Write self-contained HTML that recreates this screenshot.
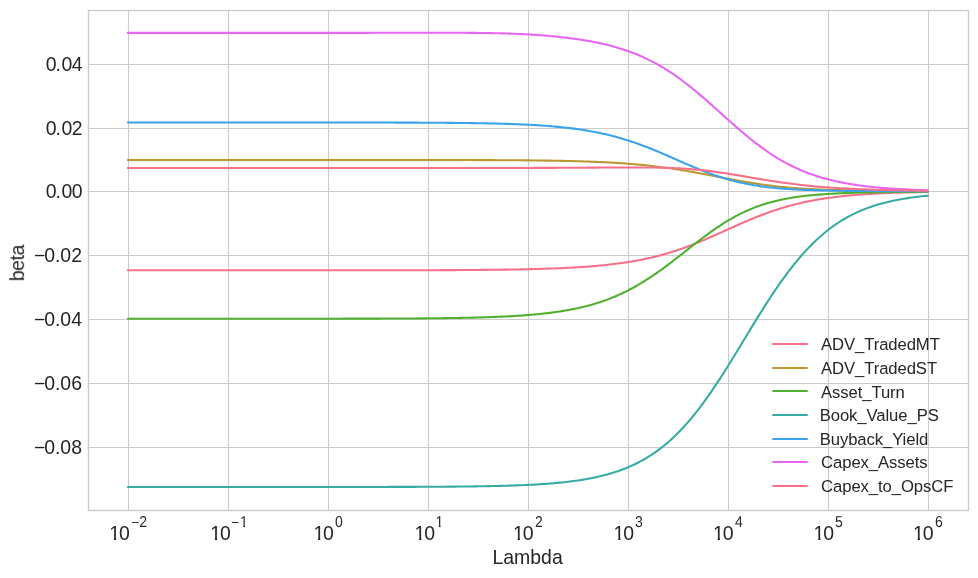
<!DOCTYPE html>
<html><head><meta charset="utf-8"><title>Ridge coefficient paths</title>
<style>
html,body{margin:0;padding:0;background:#fff;}
body{width:978px;height:578px;overflow:hidden;}
svg{display:block;will-change:transform;}
text{font-family:"Liberation Sans",sans-serif;fill:#262626;}
.t{font-size:19.44px;}
.s{font-size:13.61px;text-rendering:geometricPrecision;}
.l{font-size:16.67px;letter-spacing:-0.08px;}
.g{stroke:#cccccc;stroke-width:1.11;fill:none;}
.c{fill:none;stroke-width:2.08;stroke-linecap:round;stroke-linejoin:round;}
</style></head><body>
<svg width="978" height="578" viewBox="0 0 978 578">
<rect x="0" y="0" width="978" height="578" fill="#ffffff"/>

<g class="g">
<line x1="128.5" y1="10.5" x2="128.5" y2="510.5"/>
<line x1="228.5" y1="10.5" x2="228.5" y2="510.5"/>
<line x1="328.5" y1="10.5" x2="328.5" y2="510.5"/>
<line x1="428.5" y1="10.5" x2="428.5" y2="510.5"/>
<line x1="528.5" y1="10.5" x2="528.5" y2="510.5"/>
<line x1="628.5" y1="10.5" x2="628.5" y2="510.5"/>
<line x1="728.5" y1="10.5" x2="728.5" y2="510.5"/>
<line x1="828.5" y1="10.5" x2="828.5" y2="510.5"/>
<line x1="928.5" y1="10.5" x2="928.5" y2="510.5"/>
<line x1="88.5" y1="64.5" x2="968.5" y2="64.5"/>
<line x1="88.5" y1="128.5" x2="968.5" y2="128.5"/>
<line x1="88.5" y1="191.5" x2="968.5" y2="191.5"/>
<line x1="88.5" y1="255.5" x2="968.5" y2="255.5"/>
<line x1="88.5" y1="319.5" x2="968.5" y2="319.5"/>
<line x1="88.5" y1="383.5" x2="968.5" y2="383.5"/>
<line x1="88.5" y1="447.5" x2="968.5" y2="447.5"/>
</g>
<path class="c" stroke="#f77189" d="M127.85,270.33 L129.85,270.33 L131.85,270.33 L133.85,270.33 L135.85,270.33 L137.85,270.33 L139.85,270.33 L141.85,270.33 L143.85,270.33 L145.85,270.33 L147.85,270.33 L149.85,270.33 L151.85,270.33 L153.85,270.33 L155.85,270.33 L157.85,270.33 L159.85,270.33 L161.85,270.33 L163.85,270.33 L165.85,270.33 L167.85,270.33 L169.85,270.33 L171.85,270.33 L173.85,270.33 L175.85,270.33 L177.85,270.33 L179.85,270.33 L181.85,270.33 L183.85,270.33 L185.85,270.33 L187.85,270.33 L189.85,270.33 L191.85,270.33 L193.85,270.33 L195.85,270.33 L197.85,270.33 L199.85,270.33 L201.85,270.33 L203.85,270.33 L205.85,270.33 L207.85,270.33 L209.85,270.33 L211.85,270.33 L213.85,270.33 L215.85,270.33 L217.85,270.33 L219.85,270.33 L221.85,270.33 L223.85,270.33 L225.85,270.33 L227.85,270.33 L229.85,270.33 L231.85,270.33 L233.85,270.33 L235.85,270.33 L237.85,270.33 L239.85,270.33 L241.85,270.33 L243.85,270.33 L245.85,270.33 L247.85,270.33 L249.85,270.33 L251.85,270.32 L253.85,270.32 L255.85,270.32 L257.85,270.32 L259.85,270.32 L261.85,270.32 L263.85,270.32 L265.85,270.32 L267.85,270.32 L269.85,270.32 L271.85,270.32 L273.85,270.32 L275.85,270.32 L277.85,270.32 L279.85,270.32 L281.85,270.32 L283.85,270.32 L285.85,270.32 L287.85,270.32 L289.85,270.32 L291.85,270.32 L293.85,270.32 L295.85,270.32 L297.85,270.32 L299.85,270.32 L301.85,270.32 L303.85,270.32 L305.85,270.32 L307.85,270.32 L309.85,270.32 L311.85,270.32 L313.85,270.32 L315.85,270.32 L317.85,270.32 L319.85,270.32 L321.85,270.32 L323.85,270.32 L325.85,270.31 L327.85,270.31 L329.85,270.31 L331.85,270.31 L333.85,270.31 L335.85,270.31 L337.85,270.31 L339.85,270.31 L341.85,270.31 L343.85,270.31 L345.85,270.31 L347.85,270.31 L349.85,270.31 L351.85,270.30 L353.85,270.30 L355.85,270.30 L357.85,270.30 L359.85,270.30 L361.85,270.30 L363.85,270.30 L365.85,270.30 L367.85,270.30 L369.85,270.29 L371.85,270.29 L373.85,270.29 L375.85,270.29 L377.85,270.29 L379.85,270.28 L381.85,270.28 L383.85,270.28 L385.85,270.28 L387.85,270.28 L389.85,270.27 L391.85,270.27 L393.85,270.27 L395.85,270.27 L397.85,270.26 L399.85,270.26 L401.85,270.26 L403.85,270.25 L405.85,270.25 L407.85,270.25 L409.85,270.24 L411.85,270.24 L413.85,270.24 L415.85,270.23 L417.85,270.23 L419.85,270.22 L421.85,270.22 L423.85,270.21 L425.85,270.21 L427.85,270.20 L429.85,270.20 L431.85,270.19 L433.85,270.18 L435.85,270.18 L437.85,270.17 L439.85,270.16 L441.85,270.15 L443.85,270.15 L445.85,270.14 L447.85,270.13 L449.85,270.12 L451.85,270.11 L453.85,270.10 L455.85,270.09 L457.85,270.08 L459.85,270.07 L461.85,270.06 L463.85,270.04 L465.85,270.03 L467.85,270.02 L469.85,270.00 L471.85,269.99 L473.85,269.97 L475.85,269.96 L477.85,269.94 L479.85,269.93 L481.85,269.91 L483.85,269.89 L485.85,269.87 L487.85,269.85 L489.85,269.83 L491.85,269.81 L493.85,269.78 L495.85,269.76 L497.85,269.73 L499.85,269.71 L501.85,269.68 L503.85,269.65 L505.85,269.62 L507.85,269.59 L509.85,269.56 L511.85,269.53 L513.85,269.49 L515.85,269.46 L517.85,269.42 L519.85,269.38 L521.85,269.34 L523.85,269.30 L525.85,269.25 L527.85,269.21 L529.85,269.16 L531.85,269.11 L533.85,269.06 L535.85,269.01 L537.85,268.95 L539.85,268.89 L541.85,268.83 L543.85,268.77 L545.85,268.71 L547.85,268.64 L549.85,268.57 L551.85,268.50 L553.85,268.42 L555.85,268.35 L557.85,268.26 L559.85,268.18 L561.85,268.09 L563.85,268.00 L565.85,267.91 L567.85,267.81 L569.85,267.71 L571.85,267.60 L573.85,267.49 L575.85,267.37 L577.85,267.25 L579.85,267.13 L581.85,267.00 L583.85,266.87 L585.85,266.73 L587.85,266.58 L589.85,266.43 L591.85,266.27 L593.85,266.11 L595.85,265.94 L597.85,265.77 L599.85,265.58 L601.85,265.39 L603.85,265.20 L605.85,264.99 L607.85,264.78 L609.85,264.56 L611.85,264.33 L613.85,264.09 L615.85,263.84 L617.85,263.58 L619.85,263.31 L621.85,263.04 L623.85,262.75 L625.85,262.45 L627.85,262.14 L629.85,261.82 L631.85,261.49 L633.85,261.14 L635.85,260.79 L637.85,260.42 L639.85,260.04 L641.85,259.64 L643.85,259.23 L645.85,258.81 L647.85,258.37 L649.85,257.92 L651.85,257.45 L653.85,256.97 L655.85,256.48 L657.85,255.97 L659.85,255.44 L661.85,254.90 L663.85,254.34 L665.85,253.77 L667.85,253.18 L669.85,252.57 L671.85,251.95 L673.85,251.32 L675.85,250.66 L677.85,250.00 L679.85,249.31 L681.85,248.61 L683.85,247.90 L685.85,247.17 L687.85,246.43 L689.85,245.67 L691.85,244.90 L693.85,244.12 L695.85,243.32 L697.85,242.51 L699.85,241.69 L701.85,240.86 L703.85,240.02 L705.85,239.17 L707.85,238.31 L709.85,237.44 L711.85,236.56 L713.85,235.68 L715.85,234.79 L717.85,233.90 L719.85,233.00 L721.85,232.11 L723.85,231.21 L725.85,230.30 L727.85,229.40 L729.85,228.50 L731.85,227.60 L733.85,226.71 L735.85,225.82 L737.85,224.93 L739.85,224.05 L741.85,223.17 L743.85,222.31 L745.85,221.45 L747.85,220.60 L749.85,219.76 L751.85,218.93 L753.85,218.11 L755.85,217.30 L757.85,216.50 L759.85,215.72 L761.85,214.95 L763.85,214.20 L765.85,213.45 L767.85,212.73 L769.85,212.02 L771.85,211.32 L773.85,210.64 L775.85,209.97 L777.85,209.32 L779.85,208.69 L781.85,208.07 L783.85,207.47 L785.85,206.88 L787.85,206.31 L789.85,205.76 L791.85,205.22 L793.85,204.70 L795.85,204.19 L797.85,203.70 L799.85,203.22 L801.85,202.76 L803.85,202.31 L805.85,201.88 L807.85,201.46 L809.85,201.06 L811.85,200.67 L813.85,200.29 L815.85,199.93 L817.85,199.58 L819.85,199.24 L821.85,198.91 L823.85,198.60 L825.85,198.29 L827.85,198.00 L829.85,197.72 L831.85,197.45 L833.85,197.19 L835.85,196.94 L837.85,196.70 L839.85,196.47 L841.85,196.25 L843.85,196.04 L845.85,195.83 L847.85,195.63 L849.85,195.45 L851.85,195.27 L853.85,195.09 L855.85,194.93 L857.85,194.77 L859.85,194.61 L861.85,194.47 L863.85,194.33 L865.85,194.19 L867.85,194.06 L869.85,193.94 L871.85,193.82 L873.85,193.71 L875.85,193.60 L877.85,193.50 L879.85,193.40 L881.85,193.30 L883.85,193.21 L885.85,193.13 L887.85,193.04 L889.85,192.96 L891.85,192.89 L893.85,192.82 L895.85,192.75 L897.85,192.68 L899.85,192.62 L901.85,192.56 L903.85,192.50 L905.85,192.45 L907.85,192.40 L909.85,192.35 L911.85,192.30 L913.85,192.25 L915.85,192.21 L917.85,192.17 L919.85,192.13 L921.85,192.10 L923.85,192.06 L925.85,192.03 L927.85,192.00"/>
<path class="c" stroke="#bb9832" d="M127.85,159.97 L129.85,159.97 L131.85,159.97 L133.85,159.97 L135.85,159.97 L137.85,159.97 L139.85,159.97 L141.85,159.97 L143.85,159.97 L145.85,159.97 L147.85,159.97 L149.85,159.97 L151.85,159.97 L153.85,159.97 L155.85,159.97 L157.85,159.97 L159.85,159.97 L161.85,159.97 L163.85,159.97 L165.85,159.97 L167.85,159.97 L169.85,159.97 L171.85,159.97 L173.85,159.97 L175.85,159.97 L177.85,159.97 L179.85,159.97 L181.85,159.97 L183.85,159.97 L185.85,159.97 L187.85,159.97 L189.85,159.97 L191.85,159.97 L193.85,159.97 L195.85,159.97 L197.85,159.97 L199.85,159.97 L201.85,159.97 L203.85,159.97 L205.85,159.97 L207.85,159.97 L209.85,159.97 L211.85,159.97 L213.85,159.97 L215.85,159.97 L217.85,159.97 L219.85,159.97 L221.85,159.97 L223.85,159.97 L225.85,159.97 L227.85,159.97 L229.85,159.97 L231.85,159.97 L233.85,159.97 L235.85,159.97 L237.85,159.97 L239.85,159.97 L241.85,159.97 L243.85,159.97 L245.85,159.97 L247.85,159.97 L249.85,159.97 L251.85,159.97 L253.85,159.97 L255.85,159.97 L257.85,159.97 L259.85,159.97 L261.85,159.97 L263.85,159.97 L265.85,159.97 L267.85,159.97 L269.85,159.97 L271.85,159.97 L273.85,159.97 L275.85,159.97 L277.85,159.97 L279.85,159.97 L281.85,159.97 L283.85,159.97 L285.85,159.97 L287.85,159.97 L289.85,159.97 L291.85,159.97 L293.85,159.97 L295.85,159.97 L297.85,159.97 L299.85,159.97 L301.85,159.97 L303.85,159.97 L305.85,159.97 L307.85,159.97 L309.85,159.97 L311.85,159.97 L313.85,159.97 L315.85,159.97 L317.85,159.97 L319.85,159.97 L321.85,159.97 L323.85,159.97 L325.85,159.97 L327.85,159.97 L329.85,159.97 L331.85,159.97 L333.85,159.97 L335.85,159.97 L337.85,159.97 L339.85,159.97 L341.85,159.97 L343.85,159.97 L345.85,159.97 L347.85,159.97 L349.85,159.97 L351.85,159.97 L353.85,159.97 L355.85,159.97 L357.85,159.98 L359.85,159.98 L361.85,159.98 L363.85,159.98 L365.85,159.98 L367.85,159.98 L369.85,159.98 L371.85,159.98 L373.85,159.98 L375.85,159.98 L377.85,159.98 L379.85,159.98 L381.85,159.98 L383.85,159.98 L385.85,159.98 L387.85,159.98 L389.85,159.98 L391.85,159.99 L393.85,159.99 L395.85,159.99 L397.85,159.99 L399.85,159.99 L401.85,159.99 L403.85,159.99 L405.85,159.99 L407.85,159.99 L409.85,159.99 L411.85,160.00 L413.85,160.00 L415.85,160.00 L417.85,160.00 L419.85,160.00 L421.85,160.00 L423.85,160.00 L425.85,160.01 L427.85,160.01 L429.85,160.01 L431.85,160.01 L433.85,160.01 L435.85,160.02 L437.85,160.02 L439.85,160.02 L441.85,160.02 L443.85,160.03 L445.85,160.03 L447.85,160.03 L449.85,160.04 L451.85,160.04 L453.85,160.04 L455.85,160.05 L457.85,160.05 L459.85,160.05 L461.85,160.06 L463.85,160.06 L465.85,160.07 L467.85,160.07 L469.85,160.08 L471.85,160.08 L473.85,160.09 L475.85,160.09 L477.85,160.10 L479.85,160.10 L481.85,160.11 L483.85,160.12 L485.85,160.12 L487.85,160.13 L489.85,160.14 L491.85,160.15 L493.85,160.16 L495.85,160.17 L497.85,160.17 L499.85,160.18 L501.85,160.19 L503.85,160.21 L505.85,160.22 L507.85,160.23 L509.85,160.24 L511.85,160.25 L513.85,160.27 L515.85,160.28 L517.85,160.29 L519.85,160.31 L521.85,160.33 L523.85,160.34 L525.85,160.36 L527.85,160.38 L529.85,160.40 L531.85,160.42 L533.85,160.44 L535.85,160.46 L537.85,160.48 L539.85,160.51 L541.85,160.53 L543.85,160.56 L545.85,160.59 L547.85,160.61 L549.85,160.64 L551.85,160.68 L553.85,160.71 L555.85,160.74 L557.85,160.78 L559.85,160.82 L561.85,160.85 L563.85,160.90 L565.85,160.94 L567.85,160.98 L569.85,161.03 L571.85,161.08 L573.85,161.13 L575.85,161.18 L577.85,161.24 L579.85,161.29 L581.85,161.35 L583.85,161.42 L585.85,161.48 L587.85,161.55 L589.85,161.62 L591.85,161.69 L593.85,161.77 L595.85,161.85 L597.85,161.94 L599.85,162.02 L601.85,162.11 L603.85,162.21 L605.85,162.31 L607.85,162.41 L609.85,162.52 L611.85,162.63 L613.85,162.74 L615.85,162.86 L617.85,162.99 L619.85,163.11 L621.85,163.25 L623.85,163.39 L625.85,163.53 L627.85,163.68 L629.85,163.84 L631.85,164.00 L633.85,164.17 L635.85,164.34 L637.85,164.52 L639.85,164.70 L641.85,164.89 L643.85,165.09 L645.85,165.30 L647.85,165.51 L649.85,165.72 L651.85,165.95 L653.85,166.18 L655.85,166.42 L657.85,166.66 L659.85,166.91 L661.85,167.17 L663.85,167.44 L665.85,167.71 L667.85,167.99 L669.85,168.28 L671.85,168.57 L673.85,168.87 L675.85,169.18 L677.85,169.49 L679.85,169.81 L681.85,170.13 L683.85,170.47 L685.85,170.80 L687.85,171.15 L689.85,171.50 L691.85,171.85 L693.85,172.21 L695.85,172.57 L697.85,172.94 L699.85,173.31 L701.85,173.69 L703.85,174.06 L705.85,174.44 L707.85,174.83 L709.85,175.21 L711.85,175.60 L713.85,175.99 L715.85,176.38 L717.85,176.76 L719.85,177.15 L721.85,177.54 L723.85,177.92 L725.85,178.31 L727.85,178.69 L729.85,179.07 L731.85,179.45 L733.85,179.82 L735.85,180.19 L737.85,180.55 L739.85,180.92 L741.85,181.27 L743.85,181.62 L745.85,181.96 L747.85,182.30 L749.85,182.63 L751.85,182.96 L753.85,183.28 L755.85,183.59 L757.85,183.89 L759.85,184.19 L761.85,184.48 L763.85,184.76 L765.85,185.03 L767.85,185.29 L769.85,185.55 L771.85,185.80 L773.85,186.04 L775.85,186.27 L777.85,186.49 L779.85,186.71 L781.85,186.91 L783.85,187.11 L785.85,187.31 L787.85,187.49 L789.85,187.67 L791.85,187.83 L793.85,188.00 L795.85,188.15 L797.85,188.30 L799.85,188.44 L801.85,188.57 L803.85,188.70 L805.85,188.82 L807.85,188.94 L809.85,189.05 L811.85,189.15 L813.85,189.25 L815.85,189.34 L817.85,189.43 L819.85,189.52 L821.85,189.60 L823.85,189.68 L825.85,189.75 L827.85,189.82 L829.85,189.88 L831.85,189.94 L833.85,190.00 L835.85,190.06 L837.85,190.11 L839.85,190.16 L841.85,190.21 L843.85,190.26 L845.85,190.30 L847.85,190.35 L849.85,190.39 L851.85,190.43 L853.85,190.47 L855.85,190.50 L857.85,190.54 L859.85,190.57 L861.85,190.60 L863.85,190.63 L865.85,190.67 L867.85,190.69 L869.85,190.72 L871.85,190.75 L873.85,190.78 L875.85,190.80 L877.85,190.83 L879.85,190.85 L881.85,190.88 L883.85,190.90 L885.85,190.93 L887.85,190.95 L889.85,190.97 L891.85,190.99 L893.85,191.01 L895.85,191.03 L897.85,191.05 L899.85,191.07 L901.85,191.09 L903.85,191.11 L905.85,191.12 L907.85,191.14 L909.85,191.16 L911.85,191.17 L913.85,191.19 L915.85,191.20 L917.85,191.22 L919.85,191.23 L921.85,191.25 L923.85,191.26 L925.85,191.27 L927.85,191.29"/>
<path class="c" stroke="#50b131" d="M127.85,318.72 L129.85,318.72 L131.85,318.72 L133.85,318.72 L135.85,318.72 L137.85,318.72 L139.85,318.72 L141.85,318.72 L143.85,318.72 L145.85,318.72 L147.85,318.72 L149.85,318.72 L151.85,318.72 L153.85,318.72 L155.85,318.72 L157.85,318.72 L159.85,318.72 L161.85,318.72 L163.85,318.72 L165.85,318.72 L167.85,318.72 L169.85,318.72 L171.85,318.72 L173.85,318.72 L175.85,318.72 L177.85,318.72 L179.85,318.72 L181.85,318.72 L183.85,318.72 L185.85,318.72 L187.85,318.72 L189.85,318.72 L191.85,318.72 L193.85,318.72 L195.85,318.72 L197.85,318.72 L199.85,318.72 L201.85,318.72 L203.85,318.72 L205.85,318.72 L207.85,318.72 L209.85,318.72 L211.85,318.72 L213.85,318.72 L215.85,318.72 L217.85,318.72 L219.85,318.72 L221.85,318.72 L223.85,318.72 L225.85,318.72 L227.85,318.72 L229.85,318.72 L231.85,318.72 L233.85,318.72 L235.85,318.72 L237.85,318.72 L239.85,318.72 L241.85,318.72 L243.85,318.71 L245.85,318.71 L247.85,318.71 L249.85,318.71 L251.85,318.71 L253.85,318.71 L255.85,318.71 L257.85,318.71 L259.85,318.71 L261.85,318.71 L263.85,318.71 L265.85,318.71 L267.85,318.71 L269.85,318.71 L271.85,318.71 L273.85,318.71 L275.85,318.71 L277.85,318.71 L279.85,318.71 L281.85,318.71 L283.85,318.71 L285.85,318.71 L287.85,318.70 L289.85,318.70 L291.85,318.70 L293.85,318.70 L295.85,318.70 L297.85,318.70 L299.85,318.70 L301.85,318.70 L303.85,318.70 L305.85,318.70 L307.85,318.70 L309.85,318.69 L311.85,318.69 L313.85,318.69 L315.85,318.69 L317.85,318.69 L319.85,318.69 L321.85,318.69 L323.85,318.68 L325.85,318.68 L327.85,318.68 L329.85,318.68 L331.85,318.68 L333.85,318.68 L335.85,318.67 L337.85,318.67 L339.85,318.67 L341.85,318.67 L343.85,318.66 L345.85,318.66 L347.85,318.66 L349.85,318.65 L351.85,318.65 L353.85,318.65 L355.85,318.65 L357.85,318.64 L359.85,318.64 L361.85,318.63 L363.85,318.63 L365.85,318.63 L367.85,318.62 L369.85,318.62 L371.85,318.61 L373.85,318.61 L375.85,318.60 L377.85,318.60 L379.85,318.59 L381.85,318.58 L383.85,318.58 L385.85,318.57 L387.85,318.56 L389.85,318.56 L391.85,318.55 L393.85,318.54 L395.85,318.53 L397.85,318.52 L399.85,318.51 L401.85,318.50 L403.85,318.49 L405.85,318.48 L407.85,318.47 L409.85,318.46 L411.85,318.45 L413.85,318.44 L415.85,318.42 L417.85,318.41 L419.85,318.39 L421.85,318.38 L423.85,318.36 L425.85,318.35 L427.85,318.33 L429.85,318.31 L431.85,318.29 L433.85,318.27 L435.85,318.25 L437.85,318.23 L439.85,318.20 L441.85,318.18 L443.85,318.16 L445.85,318.13 L447.85,318.10 L449.85,318.07 L451.85,318.04 L453.85,318.01 L455.85,317.98 L457.85,317.95 L459.85,317.91 L461.85,317.87 L463.85,317.83 L465.85,317.79 L467.85,317.75 L469.85,317.70 L471.85,317.66 L473.85,317.61 L475.85,317.56 L477.85,317.51 L479.85,317.45 L481.85,317.39 L483.85,317.33 L485.85,317.27 L487.85,317.20 L489.85,317.13 L491.85,317.06 L493.85,316.99 L495.85,316.91 L497.85,316.82 L499.85,316.74 L501.85,316.65 L503.85,316.56 L505.85,316.46 L507.85,316.36 L509.85,316.25 L511.85,316.14 L513.85,316.02 L515.85,315.90 L517.85,315.78 L519.85,315.65 L521.85,315.51 L523.85,315.37 L525.85,315.22 L527.85,315.06 L529.85,314.90 L531.85,314.73 L533.85,314.56 L535.85,314.37 L537.85,314.18 L539.85,313.98 L541.85,313.77 L543.85,313.56 L545.85,313.33 L547.85,313.10 L549.85,312.85 L551.85,312.60 L553.85,312.33 L555.85,312.05 L557.85,311.76 L559.85,311.46 L561.85,311.15 L563.85,310.83 L565.85,310.49 L567.85,310.13 L569.85,309.77 L571.85,309.39 L573.85,308.99 L575.85,308.58 L577.85,308.15 L579.85,307.70 L581.85,307.24 L583.85,306.76 L585.85,306.26 L587.85,305.74 L589.85,305.20 L591.85,304.65 L593.85,304.07 L595.85,303.47 L597.85,302.85 L599.85,302.20 L601.85,301.53 L603.85,300.84 L605.85,300.13 L607.85,299.39 L609.85,298.63 L611.85,297.84 L613.85,297.02 L615.85,296.18 L617.85,295.31 L619.85,294.41 L621.85,293.49 L623.85,292.54 L625.85,291.56 L627.85,290.56 L629.85,289.52 L631.85,288.46 L633.85,287.37 L635.85,286.25 L637.85,285.10 L639.85,283.93 L641.85,282.73 L643.85,281.50 L645.85,280.24 L647.85,278.96 L649.85,277.65 L651.85,276.32 L653.85,274.96 L655.85,273.58 L657.85,272.18 L659.85,270.76 L661.85,269.31 L663.85,267.85 L665.85,266.37 L667.85,264.87 L669.85,263.36 L671.85,261.84 L673.85,260.30 L675.85,258.76 L677.85,257.20 L679.85,255.64 L681.85,254.07 L683.85,252.50 L685.85,250.93 L687.85,249.36 L689.85,247.79 L691.85,246.23 L693.85,244.67 L695.85,243.12 L697.85,241.58 L699.85,240.05 L701.85,238.53 L703.85,237.03 L705.85,235.55 L707.85,234.08 L709.85,232.64 L711.85,231.21 L713.85,229.81 L715.85,228.43 L717.85,227.08 L719.85,225.76 L721.85,224.46 L723.85,223.19 L725.85,221.94 L727.85,220.73 L729.85,219.55 L731.85,218.40 L733.85,217.28 L735.85,216.19 L737.85,215.14 L739.85,214.12 L741.85,213.13 L743.85,212.17 L745.85,211.24 L747.85,210.35 L749.85,209.48 L751.85,208.65 L753.85,207.85 L755.85,207.08 L757.85,206.34 L759.85,205.63 L761.85,204.95 L763.85,204.30 L765.85,203.67 L767.85,203.07 L769.85,202.50 L771.85,201.96 L773.85,201.43 L775.85,200.93 L777.85,200.46 L779.85,200.01 L781.85,199.58 L783.85,199.16 L785.85,198.77 L787.85,198.40 L789.85,198.05 L791.85,197.71 L793.85,197.40 L795.85,197.09 L797.85,196.81 L799.85,196.53 L801.85,196.28 L803.85,196.03 L805.85,195.80 L807.85,195.58 L809.85,195.37 L811.85,195.18 L813.85,194.99 L815.85,194.81 L817.85,194.64 L819.85,194.49 L821.85,194.34 L823.85,194.19 L825.85,194.06 L827.85,193.93 L829.85,193.81 L831.85,193.70 L833.85,193.59 L835.85,193.49 L837.85,193.39 L839.85,193.30 L841.85,193.22 L843.85,193.13 L845.85,193.06 L847.85,192.98 L849.85,192.91 L851.85,192.85 L853.85,192.79 L855.85,192.73 L857.85,192.67 L859.85,192.62 L861.85,192.57 L863.85,192.52 L865.85,192.47 L867.85,192.43 L869.85,192.39 L871.85,192.35 L873.85,192.32 L875.85,192.28 L877.85,192.25 L879.85,192.22 L881.85,192.19 L883.85,192.16 L885.85,192.13 L887.85,192.11 L889.85,192.08 L891.85,192.06 L893.85,192.04 L895.85,192.02 L897.85,192.00 L899.85,191.98 L901.85,191.96 L903.85,191.94 L905.85,191.93 L907.85,191.91 L909.85,191.90 L911.85,191.88 L913.85,191.87 L915.85,191.86 L917.85,191.85 L919.85,191.83 L921.85,191.82 L923.85,191.81 L925.85,191.80 L927.85,191.79"/>
<path class="c" stroke="#36ada4" d="M127.85,487.00 L129.85,487.00 L131.85,487.00 L133.85,487.00 L135.85,487.00 L137.85,487.00 L139.85,487.00 L141.85,487.00 L143.85,487.00 L145.85,487.00 L147.85,487.00 L149.85,487.00 L151.85,487.00 L153.85,487.00 L155.85,487.00 L157.85,487.00 L159.85,487.00 L161.85,487.00 L163.85,487.00 L165.85,487.00 L167.85,487.00 L169.85,487.00 L171.85,487.00 L173.85,487.00 L175.85,487.00 L177.85,487.00 L179.85,487.00 L181.85,487.00 L183.85,487.00 L185.85,486.99 L187.85,486.99 L189.85,486.99 L191.85,486.99 L193.85,486.99 L195.85,486.99 L197.85,486.99 L199.85,486.99 L201.85,486.99 L203.85,486.99 L205.85,486.99 L207.85,486.99 L209.85,486.99 L211.85,486.99 L213.85,486.99 L215.85,486.99 L217.85,486.99 L219.85,486.99 L221.85,486.99 L223.85,486.99 L225.85,486.99 L227.85,486.99 L229.85,486.99 L231.85,486.99 L233.85,486.99 L235.85,486.99 L237.85,486.99 L239.85,486.99 L241.85,486.99 L243.85,486.99 L245.85,486.99 L247.85,486.99 L249.85,486.99 L251.85,486.99 L253.85,486.99 L255.85,486.99 L257.85,486.99 L259.85,486.99 L261.85,486.99 L263.85,486.99 L265.85,486.99 L267.85,486.99 L269.85,486.99 L271.85,486.99 L273.85,486.99 L275.85,486.99 L277.85,486.99 L279.85,486.99 L281.85,486.99 L283.85,486.99 L285.85,486.99 L287.85,486.99 L289.85,486.99 L291.85,486.99 L293.85,486.99 L295.85,486.99 L297.85,486.99 L299.85,486.98 L301.85,486.98 L303.85,486.98 L305.85,486.98 L307.85,486.98 L309.85,486.98 L311.85,486.98 L313.85,486.98 L315.85,486.98 L317.85,486.98 L319.85,486.98 L321.85,486.98 L323.85,486.98 L325.85,486.98 L327.85,486.97 L329.85,486.97 L331.85,486.97 L333.85,486.97 L335.85,486.97 L337.85,486.97 L339.85,486.97 L341.85,486.97 L343.85,486.97 L345.85,486.96 L347.85,486.96 L349.85,486.96 L351.85,486.96 L353.85,486.96 L355.85,486.96 L357.85,486.95 L359.85,486.95 L361.85,486.95 L363.85,486.95 L365.85,486.95 L367.85,486.94 L369.85,486.94 L371.85,486.94 L373.85,486.93 L375.85,486.93 L377.85,486.93 L379.85,486.93 L381.85,486.92 L383.85,486.92 L385.85,486.92 L387.85,486.91 L389.85,486.91 L391.85,486.90 L393.85,486.90 L395.85,486.89 L397.85,486.89 L399.85,486.89 L401.85,486.88 L403.85,486.87 L405.85,486.87 L407.85,486.86 L409.85,486.86 L411.85,486.85 L413.85,486.84 L415.85,486.84 L417.85,486.83 L419.85,486.82 L421.85,486.81 L423.85,486.80 L425.85,486.79 L427.85,486.78 L429.85,486.77 L431.85,486.76 L433.85,486.75 L435.85,486.74 L437.85,486.73 L439.85,486.72 L441.85,486.70 L443.85,486.69 L445.85,486.68 L447.85,486.66 L449.85,486.65 L451.85,486.63 L453.85,486.61 L455.85,486.59 L457.85,486.58 L459.85,486.56 L461.85,486.53 L463.85,486.51 L465.85,486.49 L467.85,486.47 L469.85,486.44 L471.85,486.42 L473.85,486.39 L475.85,486.36 L477.85,486.33 L479.85,486.30 L481.85,486.27 L483.85,486.23 L485.85,486.20 L487.85,486.16 L489.85,486.12 L491.85,486.08 L493.85,486.03 L495.85,485.99 L497.85,485.94 L499.85,485.89 L501.85,485.84 L503.85,485.79 L505.85,485.73 L507.85,485.67 L509.85,485.61 L511.85,485.54 L513.85,485.47 L515.85,485.40 L517.85,485.33 L519.85,485.25 L521.85,485.17 L523.85,485.08 L525.85,484.99 L527.85,484.90 L529.85,484.80 L531.85,484.70 L533.85,484.59 L535.85,484.48 L537.85,484.36 L539.85,484.24 L541.85,484.11 L543.85,483.98 L545.85,483.84 L547.85,483.69 L549.85,483.54 L551.85,483.38 L553.85,483.21 L555.85,483.03 L557.85,482.85 L559.85,482.65 L561.85,482.45 L563.85,482.24 L565.85,482.02 L567.85,481.79 L569.85,481.55 L571.85,481.30 L573.85,481.04 L575.85,480.76 L577.85,480.48 L579.85,480.18 L581.85,479.86 L583.85,479.54 L585.85,479.19 L587.85,478.84 L589.85,478.47 L591.85,478.08 L593.85,477.67 L595.85,477.25 L597.85,476.80 L599.85,476.34 L601.85,475.86 L603.85,475.36 L605.85,474.83 L607.85,474.28 L609.85,473.71 L611.85,473.12 L613.85,472.50 L615.85,471.85 L617.85,471.18 L619.85,470.48 L621.85,469.75 L623.85,468.99 L625.85,468.20 L627.85,467.37 L629.85,466.51 L631.85,465.62 L633.85,464.70 L635.85,463.73 L637.85,462.73 L639.85,461.69 L641.85,460.61 L643.85,459.49 L645.85,458.33 L647.85,457.12 L649.85,455.87 L651.85,454.57 L653.85,453.23 L655.85,451.84 L657.85,450.40 L659.85,448.91 L661.85,447.36 L663.85,445.77 L665.85,444.13 L667.85,442.43 L669.85,440.67 L671.85,438.86 L673.85,437.00 L675.85,435.08 L677.85,433.10 L679.85,431.07 L681.85,428.98 L683.85,426.83 L685.85,424.62 L687.85,422.35 L689.85,420.03 L691.85,417.65 L693.85,415.22 L695.85,412.72 L697.85,410.18 L699.85,407.57 L701.85,404.92 L703.85,402.21 L705.85,399.45 L707.85,396.64 L709.85,393.79 L711.85,390.88 L713.85,387.94 L715.85,384.95 L717.85,381.92 L719.85,378.85 L721.85,375.74 L723.85,372.61 L725.85,369.44 L727.85,366.25 L729.85,363.03 L731.85,359.79 L733.85,356.53 L735.85,353.26 L737.85,349.97 L739.85,346.67 L741.85,343.37 L743.85,340.07 L745.85,336.76 L747.85,333.46 L749.85,330.16 L751.85,326.88 L753.85,323.61 L755.85,320.35 L757.85,317.11 L759.85,313.89 L761.85,310.70 L763.85,307.53 L765.85,304.40 L767.85,301.29 L769.85,298.22 L771.85,295.18 L773.85,292.19 L775.85,289.23 L777.85,286.32 L779.85,283.45 L781.85,280.63 L783.85,277.85 L785.85,275.12 L787.85,272.44 L789.85,269.82 L791.85,267.24 L793.85,264.72 L795.85,262.25 L797.85,259.84 L799.85,257.48 L801.85,255.17 L803.85,252.92 L805.85,250.73 L807.85,248.59 L809.85,246.50 L811.85,244.48 L813.85,242.50 L815.85,240.59 L817.85,238.73 L819.85,236.92 L821.85,235.16 L823.85,233.46 L825.85,231.82 L827.85,230.22 L829.85,228.68 L831.85,227.19 L833.85,225.74 L835.85,224.35 L837.85,223.00 L839.85,221.70 L841.85,220.45 L843.85,219.25 L845.85,218.08 L847.85,216.96 L849.85,215.88 L851.85,214.85 L853.85,213.85 L855.85,212.89 L857.85,211.97 L859.85,211.09 L861.85,210.24 L863.85,209.42 L865.85,208.64 L867.85,207.89 L869.85,207.17 L871.85,206.48 L873.85,205.82 L875.85,205.19 L877.85,204.58 L879.85,204.01 L881.85,203.45 L883.85,202.92 L885.85,202.41 L887.85,201.93 L889.85,201.46 L891.85,201.02 L893.85,200.59 L895.85,200.19 L897.85,199.80 L899.85,199.43 L901.85,199.08 L903.85,198.74 L905.85,198.42 L907.85,198.11 L909.85,197.81 L911.85,197.53 L913.85,197.26 L915.85,197.01 L917.85,196.76 L919.85,196.53 L921.85,196.30 L923.85,196.09 L925.85,195.89 L927.85,195.69"/>
<path class="c" stroke="#3ba3ec" d="M127.85,122.48 L129.85,122.48 L131.85,122.48 L133.85,122.48 L135.85,122.48 L137.85,122.48 L139.85,122.48 L141.85,122.48 L143.85,122.48 L145.85,122.48 L147.85,122.48 L149.85,122.48 L151.85,122.48 L153.85,122.48 L155.85,122.48 L157.85,122.48 L159.85,122.48 L161.85,122.48 L163.85,122.48 L165.85,122.48 L167.85,122.48 L169.85,122.48 L171.85,122.48 L173.85,122.48 L175.85,122.48 L177.85,122.48 L179.85,122.48 L181.85,122.48 L183.85,122.48 L185.85,122.48 L187.85,122.48 L189.85,122.48 L191.85,122.48 L193.85,122.48 L195.85,122.48 L197.85,122.48 L199.85,122.48 L201.85,122.48 L203.85,122.48 L205.85,122.48 L207.85,122.48 L209.85,122.48 L211.85,122.48 L213.85,122.48 L215.85,122.48 L217.85,122.48 L219.85,122.48 L221.85,122.48 L223.85,122.48 L225.85,122.48 L227.85,122.48 L229.85,122.48 L231.85,122.48 L233.85,122.48 L235.85,122.48 L237.85,122.48 L239.85,122.48 L241.85,122.48 L243.85,122.48 L245.85,122.48 L247.85,122.48 L249.85,122.48 L251.85,122.48 L253.85,122.48 L255.85,122.48 L257.85,122.48 L259.85,122.48 L261.85,122.48 L263.85,122.48 L265.85,122.48 L267.85,122.48 L269.85,122.48 L271.85,122.49 L273.85,122.49 L275.85,122.49 L277.85,122.49 L279.85,122.49 L281.85,122.49 L283.85,122.49 L285.85,122.49 L287.85,122.49 L289.85,122.49 L291.85,122.49 L293.85,122.49 L295.85,122.49 L297.85,122.49 L299.85,122.49 L301.85,122.49 L303.85,122.49 L305.85,122.49 L307.85,122.49 L309.85,122.49 L311.85,122.49 L313.85,122.50 L315.85,122.50 L317.85,122.50 L319.85,122.50 L321.85,122.50 L323.85,122.50 L325.85,122.50 L327.85,122.50 L329.85,122.50 L331.85,122.50 L333.85,122.51 L335.85,122.51 L337.85,122.51 L339.85,122.51 L341.85,122.51 L343.85,122.51 L345.85,122.51 L347.85,122.52 L349.85,122.52 L351.85,122.52 L353.85,122.52 L355.85,122.52 L357.85,122.52 L359.85,122.53 L361.85,122.53 L363.85,122.53 L365.85,122.53 L367.85,122.54 L369.85,122.54 L371.85,122.54 L373.85,122.55 L375.85,122.55 L377.85,122.55 L379.85,122.56 L381.85,122.56 L383.85,122.56 L385.85,122.57 L387.85,122.57 L389.85,122.58 L391.85,122.58 L393.85,122.58 L395.85,122.59 L397.85,122.59 L399.85,122.60 L401.85,122.61 L403.85,122.61 L405.85,122.62 L407.85,122.62 L409.85,122.63 L411.85,122.64 L413.85,122.65 L415.85,122.65 L417.85,122.66 L419.85,122.67 L421.85,122.68 L423.85,122.69 L425.85,122.70 L427.85,122.71 L429.85,122.72 L431.85,122.73 L433.85,122.74 L435.85,122.76 L437.85,122.77 L439.85,122.78 L441.85,122.80 L443.85,122.81 L445.85,122.83 L447.85,122.84 L449.85,122.86 L451.85,122.88 L453.85,122.90 L455.85,122.92 L457.85,122.94 L459.85,122.96 L461.85,122.98 L463.85,123.00 L465.85,123.03 L467.85,123.06 L469.85,123.08 L471.85,123.11 L473.85,123.14 L475.85,123.17 L477.85,123.20 L479.85,123.24 L481.85,123.27 L483.85,123.31 L485.85,123.35 L487.85,123.39 L489.85,123.43 L491.85,123.48 L493.85,123.52 L495.85,123.57 L497.85,123.62 L499.85,123.67 L501.85,123.73 L503.85,123.79 L505.85,123.85 L507.85,123.91 L509.85,123.98 L511.85,124.05 L513.85,124.12 L515.85,124.19 L517.85,124.27 L519.85,124.36 L521.85,124.44 L523.85,124.53 L525.85,124.63 L527.85,124.73 L529.85,124.83 L531.85,124.94 L533.85,125.05 L535.85,125.16 L537.85,125.29 L539.85,125.41 L541.85,125.55 L543.85,125.69 L545.85,125.83 L547.85,125.98 L549.85,126.14 L551.85,126.30 L553.85,126.47 L555.85,126.65 L557.85,126.84 L559.85,127.03 L561.85,127.23 L563.85,127.44 L565.85,127.66 L567.85,127.89 L569.85,128.13 L571.85,128.37 L573.85,128.63 L575.85,128.90 L577.85,129.17 L579.85,129.46 L581.85,129.76 L583.85,130.07 L585.85,130.39 L587.85,130.73 L589.85,131.08 L591.85,131.44 L593.85,131.81 L595.85,132.19 L597.85,132.59 L599.85,133.01 L601.85,133.43 L603.85,133.88 L605.85,134.33 L607.85,134.80 L609.85,135.29 L611.85,135.79 L613.85,136.31 L615.85,136.84 L617.85,137.39 L619.85,137.96 L621.85,138.54 L623.85,139.14 L625.85,139.75 L627.85,140.38 L629.85,141.02 L631.85,141.68 L633.85,142.36 L635.85,143.05 L637.85,143.76 L639.85,144.48 L641.85,145.21 L643.85,145.96 L645.85,146.73 L647.85,147.50 L649.85,148.29 L651.85,149.09 L653.85,149.90 L655.85,150.72 L657.85,151.56 L659.85,152.40 L661.85,153.25 L663.85,154.10 L665.85,154.97 L667.85,155.83 L669.85,156.71 L671.85,157.58 L673.85,158.46 L675.85,159.34 L677.85,160.22 L679.85,161.09 L681.85,161.97 L683.85,162.84 L685.85,163.71 L687.85,164.58 L689.85,165.43 L691.85,166.28 L693.85,167.12 L695.85,167.95 L697.85,168.78 L699.85,169.59 L701.85,170.38 L703.85,171.17 L705.85,171.94 L707.85,172.69 L709.85,173.43 L711.85,174.16 L713.85,174.86 L715.85,175.55 L717.85,176.23 L719.85,176.88 L721.85,177.52 L723.85,178.14 L725.85,178.74 L727.85,179.32 L729.85,179.88 L731.85,180.42 L733.85,180.95 L735.85,181.45 L737.85,181.94 L739.85,182.40 L741.85,182.85 L743.85,183.28 L745.85,183.70 L747.85,184.09 L749.85,184.47 L751.85,184.83 L753.85,185.18 L755.85,185.51 L757.85,185.82 L759.85,186.12 L761.85,186.41 L763.85,186.68 L765.85,186.93 L767.85,187.18 L769.85,187.41 L771.85,187.63 L773.85,187.83 L775.85,188.03 L777.85,188.21 L779.85,188.39 L781.85,188.56 L783.85,188.71 L785.85,188.86 L787.85,189.00 L789.85,189.13 L791.85,189.25 L793.85,189.37 L795.85,189.48 L797.85,189.58 L799.85,189.68 L801.85,189.77 L803.85,189.86 L805.85,189.94 L807.85,190.01 L809.85,190.08 L811.85,190.15 L813.85,190.22 L815.85,190.27 L817.85,190.33 L819.85,190.38 L821.85,190.43 L823.85,190.48 L825.85,190.52 L827.85,190.56 L829.85,190.60 L831.85,190.64 L833.85,190.67 L835.85,190.70 L837.85,190.73 L839.85,190.76 L841.85,190.79 L843.85,190.81 L845.85,190.84 L847.85,190.86 L849.85,190.88 L851.85,190.90 L853.85,190.92 L855.85,190.94 L857.85,190.96 L859.85,190.97 L861.85,190.99 L863.85,191.00 L865.85,191.02 L867.85,191.03 L869.85,191.04 L871.85,191.05 L873.85,191.06 L875.85,191.07 L877.85,191.08 L879.85,191.09 L881.85,191.10 L883.85,191.11 L885.85,191.12 L887.85,191.13 L889.85,191.13 L891.85,191.14 L893.85,191.15 L895.85,191.16 L897.85,191.16 L899.85,191.17 L901.85,191.18 L903.85,191.18 L905.85,191.19 L907.85,191.19 L909.85,191.20 L911.85,191.20 L913.85,191.21 L915.85,191.21 L917.85,191.22 L919.85,191.22 L921.85,191.23 L923.85,191.23 L925.85,191.24 L927.85,191.24"/>
<path class="c" stroke="#e866f4" d="M127.85,32.88 L129.85,32.88 L131.85,32.88 L133.85,32.88 L135.85,32.88 L137.85,32.88 L139.85,32.88 L141.85,32.88 L143.85,32.88 L145.85,32.88 L147.85,32.88 L149.85,32.88 L151.85,32.88 L153.85,32.88 L155.85,32.88 L157.85,32.88 L159.85,32.88 L161.85,32.88 L163.85,32.88 L165.85,32.88 L167.85,32.88 L169.85,32.88 L171.85,32.88 L173.85,32.88 L175.85,32.88 L177.85,32.88 L179.85,32.88 L181.85,32.88 L183.85,32.88 L185.85,32.88 L187.85,32.88 L189.85,32.88 L191.85,32.88 L193.85,32.88 L195.85,32.88 L197.85,32.88 L199.85,32.88 L201.85,32.88 L203.85,32.88 L205.85,32.88 L207.85,32.88 L209.85,32.88 L211.85,32.88 L213.85,32.88 L215.85,32.88 L217.85,32.88 L219.85,32.88 L221.85,32.88 L223.85,32.88 L225.85,32.88 L227.85,32.88 L229.85,32.88 L231.85,32.88 L233.85,32.88 L235.85,32.88 L237.85,32.88 L239.85,32.88 L241.85,32.88 L243.85,32.88 L245.85,32.88 L247.85,32.88 L249.85,32.88 L251.85,32.88 L253.85,32.88 L255.85,32.88 L257.85,32.88 L259.85,32.88 L261.85,32.88 L263.85,32.88 L265.85,32.88 L267.85,32.87 L269.85,32.87 L271.85,32.87 L273.85,32.87 L275.85,32.87 L277.85,32.87 L279.85,32.87 L281.85,32.87 L283.85,32.87 L285.85,32.87 L287.85,32.87 L289.85,32.87 L291.85,32.87 L293.85,32.87 L295.85,32.87 L297.85,32.87 L299.85,32.87 L301.85,32.87 L303.85,32.87 L305.85,32.87 L307.85,32.87 L309.85,32.87 L311.85,32.87 L313.85,32.87 L315.85,32.87 L317.85,32.86 L319.85,32.86 L321.85,32.86 L323.85,32.86 L325.85,32.86 L327.85,32.86 L329.85,32.86 L331.85,32.86 L333.85,32.86 L335.85,32.86 L337.85,32.86 L339.85,32.86 L341.85,32.85 L343.85,32.85 L345.85,32.85 L347.85,32.85 L349.85,32.85 L351.85,32.85 L353.85,32.85 L355.85,32.85 L357.85,32.85 L359.85,32.84 L361.85,32.84 L363.85,32.84 L365.85,32.84 L367.85,32.84 L369.85,32.84 L371.85,32.83 L373.85,32.83 L375.85,32.83 L377.85,32.83 L379.85,32.83 L381.85,32.82 L383.85,32.82 L385.85,32.82 L387.85,32.82 L389.85,32.82 L391.85,32.81 L393.85,32.81 L395.85,32.81 L397.85,32.81 L399.85,32.80 L401.85,32.80 L403.85,32.80 L405.85,32.80 L407.85,32.80 L409.85,32.79 L411.85,32.79 L413.85,32.79 L415.85,32.79 L417.85,32.78 L419.85,32.78 L421.85,32.78 L423.85,32.78 L425.85,32.78 L427.85,32.77 L429.85,32.77 L431.85,32.77 L433.85,32.77 L435.85,32.77 L437.85,32.77 L439.85,32.77 L441.85,32.77 L443.85,32.77 L445.85,32.77 L447.85,32.78 L449.85,32.78 L451.85,32.78 L453.85,32.79 L455.85,32.79 L457.85,32.80 L459.85,32.81 L461.85,32.81 L463.85,32.82 L465.85,32.83 L467.85,32.85 L469.85,32.86 L471.85,32.87 L473.85,32.89 L475.85,32.91 L477.85,32.93 L479.85,32.95 L481.85,32.97 L483.85,33.00 L485.85,33.03 L487.85,33.06 L489.85,33.09 L491.85,33.13 L493.85,33.17 L495.85,33.21 L497.85,33.26 L499.85,33.31 L501.85,33.36 L503.85,33.41 L505.85,33.47 L507.85,33.54 L509.85,33.60 L511.85,33.67 L513.85,33.75 L515.85,33.83 L517.85,33.92 L519.85,34.00 L521.85,34.10 L523.85,34.20 L525.85,34.30 L527.85,34.41 L529.85,34.52 L531.85,34.64 L533.85,34.77 L535.85,34.90 L537.85,35.04 L539.85,35.18 L541.85,35.33 L543.85,35.49 L545.85,35.65 L547.85,35.82 L549.85,35.99 L551.85,36.17 L553.85,36.36 L555.85,36.56 L557.85,36.76 L559.85,36.97 L561.85,37.19 L563.85,37.42 L565.85,37.65 L567.85,37.89 L569.85,38.15 L571.85,38.41 L573.85,38.68 L575.85,38.96 L577.85,39.25 L579.85,39.55 L581.85,39.86 L583.85,40.18 L585.85,40.51 L587.85,40.86 L589.85,41.22 L591.85,41.59 L593.85,41.97 L595.85,42.37 L597.85,42.78 L599.85,43.20 L601.85,43.64 L603.85,44.10 L605.85,44.57 L607.85,45.06 L609.85,45.57 L611.85,46.09 L613.85,46.63 L615.85,47.20 L617.85,47.78 L619.85,48.38 L621.85,49.01 L623.85,49.65 L625.85,50.32 L627.85,51.01 L629.85,51.72 L631.85,52.46 L633.85,53.23 L635.85,54.02 L637.85,54.83 L639.85,55.67 L641.85,56.54 L643.85,57.44 L645.85,58.37 L647.85,59.32 L649.85,60.31 L651.85,61.32 L653.85,62.36 L655.85,63.44 L657.85,64.54 L659.85,65.68 L661.85,66.85 L663.85,68.04 L665.85,69.27 L667.85,70.53 L669.85,71.83 L671.85,73.15 L673.85,74.50 L675.85,75.89 L677.85,77.30 L679.85,78.75 L681.85,80.22 L683.85,81.72 L685.85,83.25 L687.85,84.81 L689.85,86.39 L691.85,87.99 L693.85,89.62 L695.85,91.28 L697.85,92.95 L699.85,94.64 L701.85,96.35 L703.85,98.08 L705.85,99.83 L707.85,101.58 L709.85,103.35 L711.85,105.13 L713.85,106.92 L715.85,108.72 L717.85,110.51 L719.85,112.32 L721.85,114.12 L723.85,115.92 L725.85,117.72 L727.85,119.52 L729.85,121.30 L731.85,123.08 L733.85,124.85 L735.85,126.61 L737.85,128.35 L739.85,130.08 L741.85,131.79 L743.85,133.48 L745.85,135.16 L747.85,136.81 L749.85,138.44 L751.85,140.04 L753.85,141.62 L755.85,143.17 L757.85,144.70 L759.85,146.20 L761.85,147.67 L763.85,149.11 L765.85,150.52 L767.85,151.90 L769.85,153.25 L771.85,154.57 L773.85,155.85 L775.85,157.11 L777.85,158.33 L779.85,159.52 L781.85,160.68 L783.85,161.80 L785.85,162.90 L787.85,163.96 L789.85,165.00 L791.85,166.00 L793.85,166.97 L795.85,167.91 L797.85,168.82 L799.85,169.70 L801.85,170.55 L803.85,171.38 L805.85,172.18 L807.85,172.95 L809.85,173.69 L811.85,174.41 L813.85,175.10 L815.85,175.77 L817.85,176.41 L819.85,177.03 L821.85,177.63 L823.85,178.20 L825.85,178.76 L827.85,179.29 L829.85,179.80 L831.85,180.29 L833.85,180.77 L835.85,181.22 L837.85,181.66 L839.85,182.08 L841.85,182.48 L843.85,182.87 L845.85,183.24 L847.85,183.60 L849.85,183.94 L851.85,184.27 L853.85,184.59 L855.85,184.89 L857.85,185.18 L859.85,185.46 L861.85,185.72 L863.85,185.98 L865.85,186.22 L867.85,186.46 L869.85,186.68 L871.85,186.89 L873.85,187.10 L875.85,187.30 L877.85,187.49 L879.85,187.67 L881.85,187.84 L883.85,188.00 L885.85,188.16 L887.85,188.31 L889.85,188.46 L891.85,188.60 L893.85,188.73 L895.85,188.86 L897.85,188.98 L899.85,189.09 L901.85,189.21 L903.85,189.31 L905.85,189.41 L907.85,189.51 L909.85,189.60 L911.85,189.69 L913.85,189.78 L915.85,189.86 L917.85,189.94 L919.85,190.01 L921.85,190.08 L923.85,190.15 L925.85,190.21 L927.85,190.28"/>
<path class="c" stroke="#f77189" d="M127.85,168.04 L129.85,168.04 L131.85,168.04 L133.85,168.04 L135.85,168.04 L137.85,168.04 L139.85,168.04 L141.85,168.04 L143.85,168.04 L145.85,168.04 L147.85,168.04 L149.85,168.04 L151.85,168.04 L153.85,168.04 L155.85,168.04 L157.85,168.04 L159.85,168.04 L161.85,168.04 L163.85,168.04 L165.85,168.04 L167.85,168.04 L169.85,168.04 L171.85,168.04 L173.85,168.04 L175.85,168.04 L177.85,168.04 L179.85,168.04 L181.85,168.04 L183.85,168.04 L185.85,168.04 L187.85,168.04 L189.85,168.04 L191.85,168.04 L193.85,168.04 L195.85,168.04 L197.85,168.04 L199.85,168.04 L201.85,168.04 L203.85,168.04 L205.85,168.04 L207.85,168.04 L209.85,168.04 L211.85,168.04 L213.85,168.04 L215.85,168.04 L217.85,168.04 L219.85,168.04 L221.85,168.04 L223.85,168.04 L225.85,168.04 L227.85,168.04 L229.85,168.04 L231.85,168.04 L233.85,168.04 L235.85,168.04 L237.85,168.04 L239.85,168.04 L241.85,168.04 L243.85,168.04 L245.85,168.04 L247.85,168.04 L249.85,168.04 L251.85,168.04 L253.85,168.04 L255.85,168.04 L257.85,168.04 L259.85,168.04 L261.85,168.04 L263.85,168.04 L265.85,168.04 L267.85,168.04 L269.85,168.04 L271.85,168.04 L273.85,168.04 L275.85,168.04 L277.85,168.04 L279.85,168.04 L281.85,168.04 L283.85,168.04 L285.85,168.04 L287.85,168.04 L289.85,168.04 L291.85,168.04 L293.85,168.04 L295.85,168.04 L297.85,168.04 L299.85,168.04 L301.85,168.04 L303.85,168.04 L305.85,168.04 L307.85,168.04 L309.85,168.04 L311.85,168.04 L313.85,168.04 L315.85,168.04 L317.85,168.04 L319.85,168.04 L321.85,168.04 L323.85,168.04 L325.85,168.04 L327.85,168.04 L329.85,168.04 L331.85,168.04 L333.85,168.04 L335.85,168.04 L337.85,168.04 L339.85,168.04 L341.85,168.04 L343.85,168.04 L345.85,168.04 L347.85,168.04 L349.85,168.04 L351.85,168.04 L353.85,168.04 L355.85,168.04 L357.85,168.04 L359.85,168.04 L361.85,168.04 L363.85,168.04 L365.85,168.04 L367.85,168.04 L369.85,168.04 L371.85,168.04 L373.85,168.04 L375.85,168.04 L377.85,168.04 L379.85,168.04 L381.85,168.04 L383.85,168.04 L385.85,168.04 L387.85,168.04 L389.85,168.04 L391.85,168.04 L393.85,168.04 L395.85,168.04 L397.85,168.04 L399.85,168.04 L401.85,168.04 L403.85,168.04 L405.85,168.04 L407.85,168.04 L409.85,168.04 L411.85,168.04 L413.85,168.04 L415.85,168.04 L417.85,168.03 L419.85,168.03 L421.85,168.03 L423.85,168.03 L425.85,168.03 L427.85,168.03 L429.85,168.03 L431.85,168.03 L433.85,168.03 L435.85,168.03 L437.85,168.03 L439.85,168.03 L441.85,168.03 L443.85,168.03 L445.85,168.03 L447.85,168.02 L449.85,168.02 L451.85,168.02 L453.85,168.02 L455.85,168.02 L457.85,168.02 L459.85,168.02 L461.85,168.02 L463.85,168.02 L465.85,168.01 L467.85,168.01 L469.85,168.01 L471.85,168.01 L473.85,168.01 L475.85,168.01 L477.85,168.01 L479.85,168.00 L481.85,168.00 L483.85,168.00 L485.85,168.00 L487.85,168.00 L489.85,167.99 L491.85,167.99 L493.85,167.99 L495.85,167.99 L497.85,167.98 L499.85,167.98 L501.85,167.98 L503.85,167.98 L505.85,167.97 L507.85,167.97 L509.85,167.97 L511.85,167.96 L513.85,167.96 L515.85,167.95 L517.85,167.95 L519.85,167.95 L521.85,167.94 L523.85,167.94 L525.85,167.93 L527.85,167.93 L529.85,167.92 L531.85,167.92 L533.85,167.91 L535.85,167.91 L537.85,167.90 L539.85,167.89 L541.85,167.89 L543.85,167.88 L545.85,167.87 L547.85,167.87 L549.85,167.86 L551.85,167.85 L553.85,167.84 L555.85,167.83 L557.85,167.83 L559.85,167.82 L561.85,167.81 L563.85,167.80 L565.85,167.79 L567.85,167.78 L569.85,167.77 L571.85,167.76 L573.85,167.75 L575.85,167.73 L577.85,167.72 L579.85,167.71 L581.85,167.70 L583.85,167.69 L585.85,167.67 L587.85,167.66 L589.85,167.65 L591.85,167.64 L593.85,167.62 L595.85,167.61 L597.85,167.60 L599.85,167.58 L601.85,167.57 L603.85,167.56 L605.85,167.54 L607.85,167.53 L609.85,167.52 L611.85,167.50 L613.85,167.49 L615.85,167.48 L617.85,167.47 L619.85,167.46 L621.85,167.45 L623.85,167.44 L625.85,167.43 L627.85,167.43 L629.85,167.42 L631.85,167.42 L633.85,167.42 L635.85,167.42 L637.85,167.42 L639.85,167.43 L641.85,167.43 L643.85,167.44 L645.85,167.46 L647.85,167.47 L649.85,167.49 L651.85,167.52 L653.85,167.54 L655.85,167.58 L657.85,167.61 L659.85,167.65 L661.85,167.70 L663.85,167.75 L665.85,167.81 L667.85,167.88 L669.85,167.95 L671.85,168.02 L673.85,168.11 L675.85,168.20 L677.85,168.30 L679.85,168.41 L681.85,168.52 L683.85,168.65 L685.85,168.78 L687.85,168.92 L689.85,169.07 L691.85,169.23 L693.85,169.40 L695.85,169.58 L697.85,169.77 L699.85,169.97 L701.85,170.17 L703.85,170.39 L705.85,170.62 L707.85,170.85 L709.85,171.10 L711.85,171.35 L713.85,171.61 L715.85,171.88 L717.85,172.16 L719.85,172.44 L721.85,172.73 L723.85,173.03 L725.85,173.34 L727.85,173.65 L729.85,173.97 L731.85,174.29 L733.85,174.62 L735.85,174.95 L737.85,175.28 L739.85,175.62 L741.85,175.96 L743.85,176.30 L745.85,176.64 L747.85,176.98 L749.85,177.33 L751.85,177.67 L753.85,178.01 L755.85,178.35 L757.85,178.69 L759.85,179.03 L761.85,179.36 L763.85,179.69 L765.85,180.02 L767.85,180.34 L769.85,180.66 L771.85,180.98 L773.85,181.29 L775.85,181.59 L777.85,181.89 L779.85,182.19 L781.85,182.47 L783.85,182.76 L785.85,183.03 L787.85,183.30 L789.85,183.57 L791.85,183.82 L793.85,184.07 L795.85,184.32 L797.85,184.56 L799.85,184.79 L801.85,185.01 L803.85,185.23 L805.85,185.45 L807.85,185.65 L809.85,185.85 L811.85,186.05 L813.85,186.24 L815.85,186.42 L817.85,186.59 L819.85,186.76 L821.85,186.93 L823.85,187.09 L825.85,187.24 L827.85,187.39 L829.85,187.53 L831.85,187.67 L833.85,187.81 L835.85,187.94 L837.85,188.06 L839.85,188.18 L841.85,188.30 L843.85,188.41 L845.85,188.51 L847.85,188.62 L849.85,188.72 L851.85,188.81 L853.85,188.91 L855.85,189.00 L857.85,189.08 L859.85,189.17 L861.85,189.25 L863.85,189.32 L865.85,189.40 L867.85,189.47 L869.85,189.54 L871.85,189.60 L873.85,189.67 L875.85,189.73 L877.85,189.79 L879.85,189.85 L881.85,189.90 L883.85,189.96 L885.85,190.01 L887.85,190.06 L889.85,190.11 L891.85,190.15 L893.85,190.20 L895.85,190.24 L897.85,190.28 L899.85,190.32 L901.85,190.36 L903.85,190.40 L905.85,190.44 L907.85,190.47 L909.85,190.51 L911.85,190.54 L913.85,190.58 L915.85,190.61 L917.85,190.64 L919.85,190.67 L921.85,190.70 L923.85,190.73 L925.85,190.75 L927.85,190.78"/>
<rect x="88.5" y="10.5" width="880.0" height="500.0" fill="none" stroke="#cccccc" stroke-width="1.39"/>
<defs><filter id="gs" x="0" y="0" width="100%" height="100%" filterUnits="userSpaceOnUse" color-interpolation-filters="sRGB"><feOffset dx="0" dy="0"/></filter></defs><g filter="url(#gs)">
<text class="t" x="45.81 55.57 61.43 71.69" y="71.0">0.04</text>
<text class="t" x="45.81 55.57 61.43 71.69" y="135.0">0.02</text>
<text class="t" x="45.81 55.57 61.43 71.69" y="198.0">0.00</text>
<text class="t" x="82.0" y="262.0" text-anchor="end"><tspan letter-spacing="-1.2">−</tspan>0.02</text>
<text class="t" x="82.0" y="326.0" text-anchor="end"><tspan letter-spacing="-1.2">−</tspan>0.04</text>
<text class="t" x="82.0" y="390.0" text-anchor="end"><tspan letter-spacing="-1.2">−</tspan>0.06</text>
<text class="t" x="82.0" y="454.0" text-anchor="end"><tspan letter-spacing="-1.2">−</tspan>0.08</text>
<text class="t" x="109.30 119.01" y="540">10</text><text class="s" x="131.30" y="527.1">−</text><text class="s" transform="translate(139.25,527) scale(1.03,1.16)">2</text>
<text class="t" x="210.30 220.01" y="540">10</text><text class="s" x="231.30" y="527.1">−</text><text class="s" transform="translate(239.95,527) scale(1.03,1.16)">1</text>
<text class="t" x="313.40 323.11" y="540">10</text><text class="s" transform="translate(334.90,527) scale(1.03,1.16)">0</text>
<text class="t" x="414.50 424.21" y="540">10</text><text class="s" transform="translate(435.60,527) scale(1.03,1.16)">1</text>
<text class="t" x="513.00 522.71" y="540">10</text><text class="s" transform="translate(534.90,527) scale(1.03,1.16)">2</text>
<text class="t" x="613.60 623.31" y="540">10</text><text class="s" transform="translate(634.90,527) scale(1.03,1.16)">3</text>
<text class="t" x="713.10 722.81" y="540">10</text><text class="s" transform="translate(734.90,527) scale(1.03,1.16)">4</text>
<text class="t" x="813.60 823.31" y="540">10</text><text class="s" transform="translate(834.90,527) scale(1.03,1.16)">5</text>
<text class="t" x="913.10 922.81" y="540">10</text><text class="s" transform="translate(934.90,527) scale(1.03,1.16)">6</text>
<text class="t" x="527.6" y="564" text-anchor="middle">Lambda</text>
<text class="t" transform="translate(24.1,263.2) rotate(-90)" text-anchor="middle" letter-spacing="-0.45">beta</text>
<line x1="773.1" y1="344" x2="806.9" y2="344" stroke="#f77189" stroke-width="2.08" stroke-linecap="round"/>
<text class="l" x="821.0" y="350">ADV_TradedMT</text>
<line x1="773.1" y1="368" x2="806.9" y2="368" stroke="#bb9832" stroke-width="2.08" stroke-linecap="round"/>
<text class="l" x="821.0" y="374">ADV_TradedST</text>
<line x1="773.1" y1="391" x2="806.9" y2="391" stroke="#50b131" stroke-width="2.08" stroke-linecap="round"/>
<text class="l" x="821.0" y="398">Asset_Turn</text>
<line x1="773.1" y1="415" x2="806.9" y2="415" stroke="#36ada4" stroke-width="2.08" stroke-linecap="round"/>
<text class="l" x="819.7" y="421">Book_Value_PS</text>
<line x1="773.1" y1="439" x2="806.9" y2="439" stroke="#3ba3ec" stroke-width="2.08" stroke-linecap="round"/>
<text class="l" x="819.7" y="445">Buyback_Yield</text>
<line x1="773.1" y1="462" x2="806.9" y2="462" stroke="#e866f4" stroke-width="2.08" stroke-linecap="round"/>
<text class="l" x="821.1" y="468" letter-spacing="-0.15">Capex_Assets</text>
<line x1="773.1" y1="486" x2="806.9" y2="486" stroke="#f77189" stroke-width="2.08" stroke-linecap="round"/>
<text class="l" x="821.1" y="491.6" letter-spacing="-0.15">Capex_to_OpsCF</text>
<rect x="109.98" y="538" width="3.96" height="2.80" fill="#fff"/>
<rect x="116.16" y="538" width="3.86" height="2.80" fill="#fff"/>
<rect x="210.98" y="538" width="3.96" height="2.80" fill="#fff"/>
<rect x="217.16" y="538" width="3.86" height="2.80" fill="#fff"/>
<rect x="240.22" y="525" width="3.01" height="2.80" fill="#fff"/>
<rect x="244.96" y="525" width="2.95" height="2.80" fill="#fff"/>
<rect x="314.08" y="538" width="3.96" height="2.80" fill="#fff"/>
<rect x="320.26" y="538" width="3.86" height="2.80" fill="#fff"/>
<rect x="415.18" y="538" width="3.96" height="2.80" fill="#fff"/>
<rect x="421.36" y="538" width="3.86" height="2.80" fill="#fff"/>
<rect x="435.87" y="525" width="3.01" height="2.80" fill="#fff"/>
<rect x="440.61" y="525" width="2.95" height="2.80" fill="#fff"/>
<rect x="513.68" y="538" width="3.96" height="2.80" fill="#fff"/>
<rect x="519.86" y="538" width="3.86" height="2.80" fill="#fff"/>
<rect x="614.28" y="538" width="3.96" height="2.80" fill="#fff"/>
<rect x="620.46" y="538" width="3.86" height="2.80" fill="#fff"/>
<rect x="713.78" y="538" width="3.96" height="2.80" fill="#fff"/>
<rect x="719.96" y="538" width="3.86" height="2.80" fill="#fff"/>
<rect x="814.28" y="538" width="3.96" height="2.80" fill="#fff"/>
<rect x="820.46" y="538" width="3.86" height="2.80" fill="#fff"/>
<rect x="913.78" y="538" width="3.96" height="2.80" fill="#fff"/>
<rect x="919.96" y="538" width="3.86" height="2.80" fill="#fff"/>
</g>
</svg></body></html>
